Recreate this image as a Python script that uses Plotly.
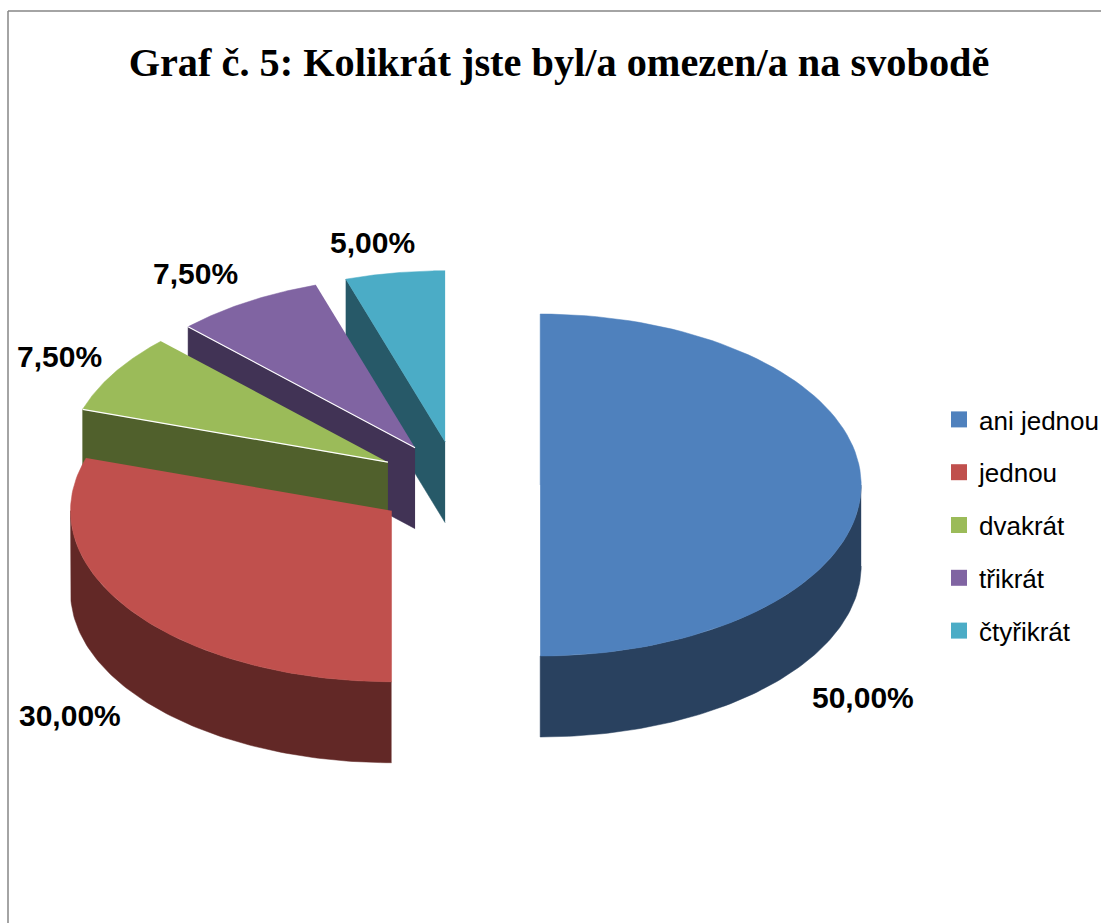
import numpy as np
import plotly.graph_objects as go

categories = ["ani jednou", "jednou", "dvakrát", "třikrát", "čtyřikrát"]
values = [50.0, 30.0, 7.5, 7.5, 5.0]
top_colors = ["#4F81BD", "#C0504D", "#9BBB59", "#8064A2", "#4BACC6"]
side_colors = ["#29415F", "#622826", "#50602C", "#413355", "#275968"]
label_centres = [(863, 697), (70, 715), (59, 356), (195, 273), (372, 242)]
white_edge = [False, False, True, True, False]

W, H = 1101, 923
CX, CY, RX, RY, DEPTH, EXPLODE = 458, 485, 321, 171, 81, 0.256


def rim(ax, ay, a0, a1, n=90):
    t = np.radians(np.linspace(a0, a1, n))
    return ax + RX * np.sin(t), ay - RY * np.cos(t)


fig = go.Figure()
ends = np.cumsum(values) / sum(values) * 360
starts = ends - np.array(values) / sum(values) * 360
apex = []
for a0, a1 in zip(starts, ends):
    m = np.radians((a0 + a1) / 2)
    apex.append((CX + EXPLODE * RX * np.sin(m), CY - EXPLODE * RY * np.cos(m)))


def poly(xs, ys, color):
    fig.add_trace(go.Scatter(x=xs, y=ys, mode="lines", fill="toself", fillcolor=color,
                             line=dict(color=color, width=0.5), hoverinfo="skip",
                             showlegend=False))


for i in reversed(range(len(values))):
    ax, ay = apex[i]
    a0, a1 = starts[i], ends[i]
    # outer wall: only the part of the rim that faces the viewer (90..270 degrees)
    lo, hi = max(a0, 90), min(a1, 270)
    if lo < hi:
        rx, ry = rim(ax, ay, lo, hi)
        poly(np.r_[rx, rx[::-1]], np.r_[ry, ry[::-1] + DEPTH], side_colors[i])
    # cut wall on the leading radius of the back slices
    if a0 > 270:
        ex, ey = rim(ax, ay, a0, a0, 1)
        poly([ax, ex[0], ex[0], ax], [ay, ey[0], ey[0] + DEPTH, ay + DEPTH], side_colors[i])
    # top face
    rx, ry = rim(ax, ay, a0, a1)
    poly(np.r_[ax, rx], np.r_[ay, ry], top_colors[i])
    if white_edge[i]:
        ex, ey = rim(ax, ay, a0, a0, 1)
        fig.add_trace(go.Scatter(x=[ax, ex[0]], y=[ay, ey[0]], mode="lines",
                                 line=dict(color="white", width=1.2), hoverinfo="skip",
                                 showlegend=False))

for i, name in enumerate(categories):
    fig.add_trace(go.Scatter(x=[None], y=[None], mode="markers", name=name, legendgroup=name,
                             marker=dict(symbol="square", size=16, color=top_colors[i])))

annotations = [
    dict(x=p[0], y=p[1], xref="x", yref="y", showarrow=False,
         text="<b>" + f"{v:.2f}".replace(".", ",") + "%</b>",
         font=dict(family="Liberation Sans", size=30, color="black"))
    for v, p in zip(values, label_centres)
]

fig.update_layout(
    width=W, height=H, margin=dict(l=0, r=0, t=0, b=0, autoexpand=False),
    paper_bgcolor="white", plot_bgcolor="white",
    xaxis=dict(range=[0, W], visible=False, fixedrange=True),
    yaxis=dict(range=[H, 0], visible=False, fixedrange=True),
    title=dict(text="<b>Graf č. 5: Kolikrát jste byl/a omezen/a na svobodě</b>",
               x=559 / W, xanchor="center", xref="paper",
               y=1 - 62 / H, yanchor="middle", yref="paper",
               font=dict(family="Liberation Serif", size=40.3, color="black")),
    legend=dict(x=939 / W, y=1 - 396 / H, xanchor="left", yanchor="top",
                font=dict(family="Liberation Sans", size=26, color="black"),
                tracegroupgap=16, itemsizing="trace", bgcolor="rgba(0,0,0,0)",
                itemclick=False, itemdoubleclick=False),
    annotations=annotations,
    shapes=[
        dict(type="line", xref="x", yref="y", x0=8, x1=8, y0=11, y1=H, line=dict(color="#868686", width=1.5)),
        dict(type="line", xref="x", yref="y", x0=8, x1=W, y0=11, y1=11, line=dict(color="#868686", width=1.5)),
    ],
)
fig.write_html("out.html", post_script="document.body.style.margin='0';document.documentElement.style.overflow='hidden';",
               config={"displayModeBar": False})
